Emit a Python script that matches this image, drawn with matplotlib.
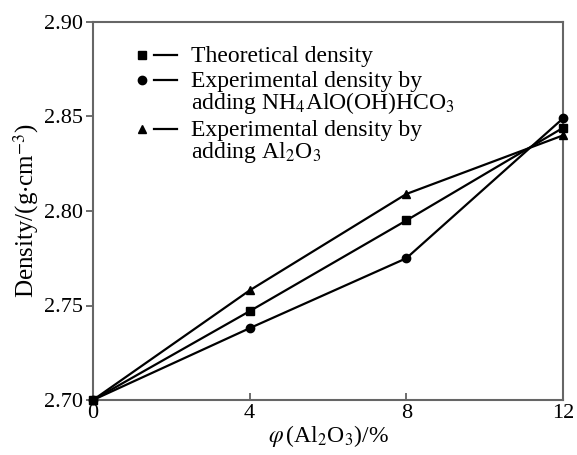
import matplotlib
matplotlib.use("Agg")
import matplotlib.pyplot as plt

plt.rcParams['font.family'] = ['Liberation Serif', 'DejaVu Serif']
plt.rcParams['mathtext.fontset'] = 'stix'

x = [0, 4, 8, 12]
theoretical = [2.700, 2.747, 2.795, 2.844]
exp_nh4 = [2.700, 2.738, 2.775, 2.849]
exp_al2o3 = [2.700, 2.758, 2.809, 2.840]

labels = [["Theoretical density"],
          ["Experimental density by", "adding NH$_4$AlO(OH)HCO$_3$"],
          ["Experimental density by", "adding Al$_2$O$_3$"]]
markers = ['s', 'o', '^']
series = [theoretical, exp_nh4, exp_al2o3]

fig = plt.figure(figsize=(5.77, 4.55), dpi=100)
ax = fig.add_axes([93/577, 1-400/455, (563-93)/577, (400-22)/455])

for s, m in zip(series, markers):
    ax.plot(x, s, color='black', lw=1.6, marker=m, ms=6, clip_on=False, zorder=3)

ax.set_xlim(0, 12)
ax.set_ylim(2.70, 2.90)
ax.set_xticks([0, 4, 8, 12])
ax.set_yticks([2.70, 2.75, 2.80, 2.85, 2.90])
ax.set_yticklabels(["2.70", "2.75", "2.80", "2.85", "2.90"])
ax.tick_params(axis='x', direction='in', length=5, width=1.2, labelsize=16, pad=3, color='#555555')
ax.tick_params(axis='y', direction='out', length=5, width=1.2, labelsize=16, pad=2, color='#555555')
for sp in ax.spines.values():
    sp.set_color('#666666')
    sp.set_linewidth(1.5)

ax.set_xlabel(r"$\varphi\,$(Al$_2$O$_3$)/%", fontsize=17, labelpad=0)
ax.set_ylabel(r"Density/(g$\cdot$cm$^{-3}$)", fontsize=18, labelpad=2)

# Manual legend (pixel positions -> axes fraction)
def ax_frac(px, py):
    return ((px - 93) / (563 - 93), (400 - py) / (400 - 22))

legend_y = [55, 80, 129]
for lines, m, py in zip(labels, markers, legend_y):
    mx, my = ax_frac(142, py)
    ax.plot([mx], [my], marker=m, color='black', ms=6, transform=ax.transAxes, clip_on=False)
    l1, _ = ax_frac(154, py)
    l2, _ = ax_frac(177, py)
    ax.plot([l1, l2], [my, my], color='black', lw=1.6, transform=ax.transAxes, clip_on=False)
    for i, line in enumerate(lines):
        tx, ty = ax_frac(191, py + 7 + 22 * i)
        ax.text(tx, ty, line, transform=ax.transAxes, fontsize=17, va='baseline', ha='left')

fig.savefig("out.png", dpi=100)
